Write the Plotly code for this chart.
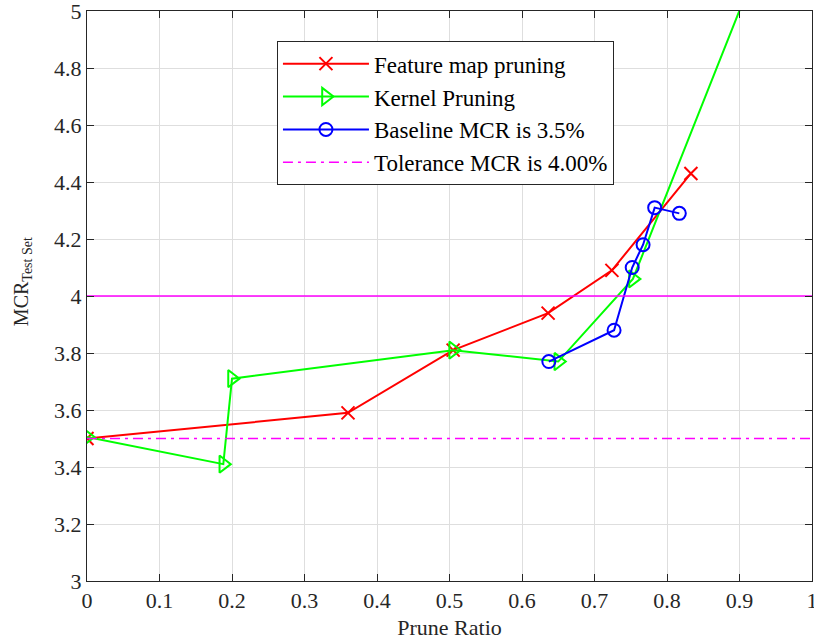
import plotly.graph_objects as go

# Data
fm_x = [0.0, 0.36, 0.505, 0.636, 0.724, 0.833]
fm_y = [3.50, 3.59, 3.81, 3.94, 4.09, 4.43]

kp_x = [0.0, 0.188, 0.20, 0.505, 0.65, 0.753, 0.92]
kp_y = [3.505, 3.41, 3.71, 3.81, 3.77, 4.06, 5.13]

bl_x = [0.637, 0.727, 0.752, 0.767, 0.783, 0.817]
bl_y = [3.77, 3.88, 4.10, 4.18, 4.31, 4.29]

tol_solid_y = 4.0
tol_dash_y = 3.5

x_ticks = [0, 0.1, 0.2, 0.3, 0.4, 0.5, 0.6, 0.7, 0.8, 0.9, 1]
x_tick_labels = ["0", "0.1", "0.2", "0.3", "0.4", "0.5", "0.6", "0.7", "0.8", "0.9", "1"]
y_ticks = [3, 3.2, 3.4, 3.6, 3.8, 4, 4.2, 4.4, 4.6, 4.8, 5]
y_tick_labels = ["3", "3.2", "3.4", "3.6", "3.8", "4", "4.2", "4.4", "4.6", "4.8", "5"]

FONT = "Liberation Serif"

fig = go.Figure()
fig.add_trace(go.Scatter(
    x=fm_x, y=fm_y, mode="lines+markers", name="Feature map pruning",
    line=dict(color="#ff0000", width=2),
    marker=dict(symbol="x-thin", size=13, line=dict(color="#ff0000", width=2)),
))
fig.add_trace(go.Scatter(
    x=kp_x, y=kp_y, mode="lines+markers", name="Kernel Pruning",
    line=dict(color="#00ff00", width=2),
    marker=dict(symbol="triangle-right-open", size=15, color="#00ff00", line=dict(color="#00ff00", width=2)),
))
fig.add_trace(go.Scatter(
    x=bl_x, y=bl_y, mode="lines+markers", name="Baseline MCR is 3.5%",
    line=dict(color="#0000ff", width=2),
    marker=dict(symbol="circle-open", size=13, color="#0000ff", line=dict(color="#0000ff", width=2)),
))
fig.add_trace(go.Scatter(
    x=[0, 1], y=[tol_dash_y, tol_dash_y], mode="lines", name="Tolerance MCR is 4.00%",
    line=dict(color="#ff00ff", width=1.5, dash="10px,5px,3px,5px"),
))
fig.add_trace(go.Scatter(
    x=[0, 1], y=[tol_solid_y, tol_solid_y], mode="lines", showlegend=False,
    line=dict(color="#ff00ff", width=1.5),
))

axis_common = dict(
    showline=True, linecolor="#262626", linewidth=1, mirror="ticks",
    ticks="inside", ticklen=7, tickcolor="#262626",
    showgrid=True, gridcolor="#dedede", gridwidth=1,
    zeroline=False, automargin=False, ticklabeloverflow="allow",
    tickfont=dict(family=FONT, size=22, color="#262626"),
)

fig.update_layout(
    width=814, height=640,
    margin=dict(l=87, r=2, t=11, b=59),
    paper_bgcolor="white", plot_bgcolor="white",
    font=dict(family=FONT, color="#262626"),
    xaxis=dict(range=[0, 1], tickvals=x_ticks, ticktext=x_tick_labels,
               title=dict(text="Prune Ratio", font=dict(family=FONT, size=22, color="#262626"), standoff=12),
               **axis_common),
    yaxis=dict(range=[3, 5], tickvals=y_ticks, ticktext=y_tick_labels,
               **axis_common),
    legend=dict(x=0.262, y=0.947, xanchor="left", yanchor="top",
                bgcolor="white", bordercolor="#262626", borderwidth=1,
                font=dict(family=FONT, size=23, color="#000000"),
                itemwidth=86, tracegroupgap=0),
    showlegend=True,
    annotations=[dict(
        text="MCR<sub>Test Set</sub>", textangle=-90,
        xref="paper", yref="paper", x=-0.0897, y=0.526,
        xanchor="center", yanchor="middle", showarrow=False,
        font=dict(family=FONT, size=20, color="#262626"),
    )],
)

fig.write_html("out.html", config={"displayModeBar": False},
               post_script="document.body.style.margin='0';document.body.style.overflow='hidden';")
